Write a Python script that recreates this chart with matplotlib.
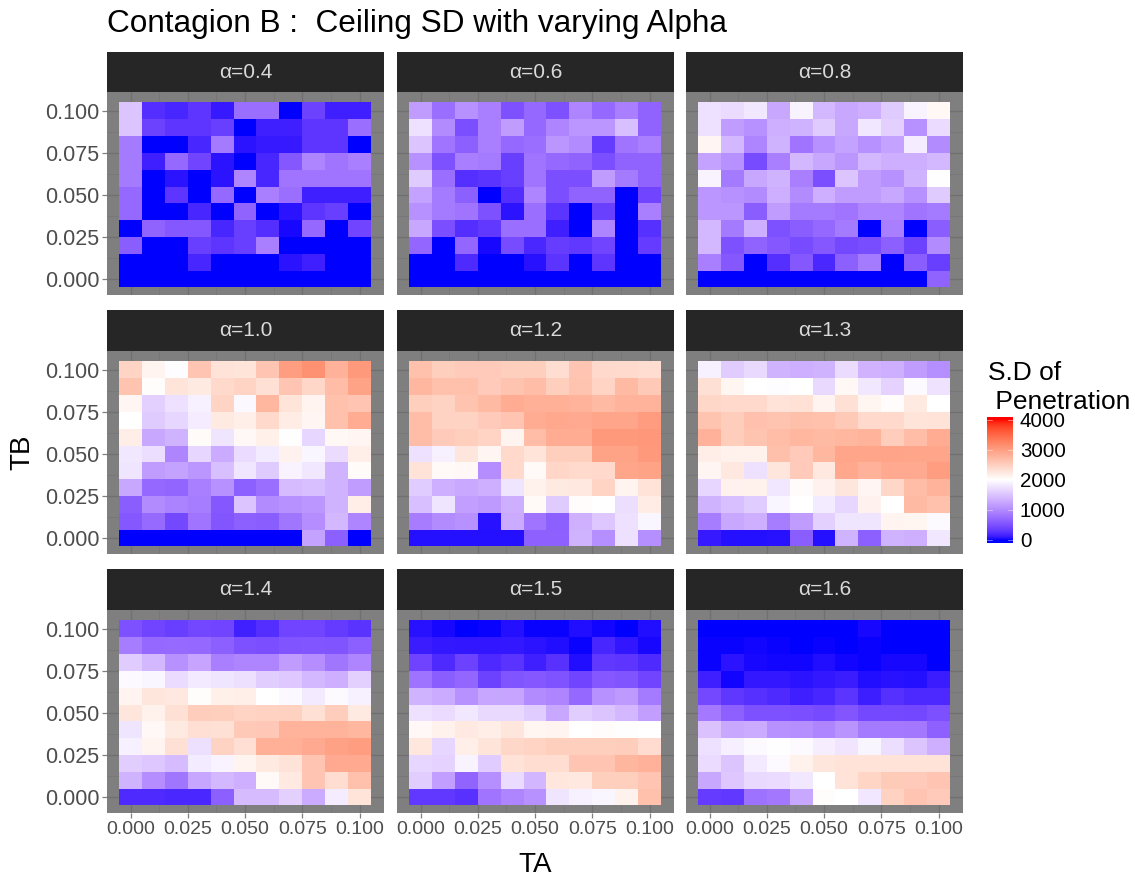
import numpy as np
import matplotlib
matplotlib.use("Agg")
import matplotlib.pyplot as plt
from matplotlib.colors import ListedColormap, Normalize
from matplotlib.patches import Rectangle

plt.rcParams['font.family'] = ['Liberation Sans', 'DejaVu Sans']

TA = [0.00, 0.01, 0.02, 0.03, 0.04, 0.05, 0.06, 0.07, 0.08, 0.09, 0.10]
TB = [0.10, 0.09, 0.08, 0.07, 0.06, 0.05, 0.04, 0.03, 0.02, 0.01, 0.00]
tick_values = [0.000, 0.025, 0.050, 0.075, 0.100]
tick_labels = ['0.000', '0.025', '0.050', '0.075', '0.100']
legend_ticks = [0, 1000, 2000, 3000, 4000]
panel_labels = ['α=0.4', 'α=0.6', 'α=0.8', 'α=1.0', 'α=1.2', 'α=1.3', 'α=1.4', 'α=1.5', 'α=1.6']

sd_04 = [[1500,220,170,280,100,750,750,0,380,130,130],
         [1500,380,280,280,340,0,130,130,280,280,750],
         [850,0,0,170,850,70,100,100,280,280,0],
         [850,130,700,400,70,0,170,550,950,800,900],
         [850,0,70,0,70,950,170,800,800,800,800],
         [700,0,280,0,700,0,900,750,130,130,130],
         [700,0,0,170,0,650,0,70,280,340,0],
         [0,650,550,550,170,340,220,30,700,0,400],
         [600,0,0,340,280,340,900,0,0,0,0],
         [0,0,0,170,0,0,0,70,130,0,0],
         [0,0,0,0,0,0,0,0,0,0,0]]
sd_06 = [[1150,750,1050,900,500,700,500,950,700,900,650],
         [1750,1000,480,900,1150,700,950,1100,1100,1450,650],
         [1500,800,620,900,700,750,1100,1000,320,800,900],
         [1050,500,900,850,350,800,700,650,480,650,650],
         [1550,750,230,270,350,800,480,480,1150,850,650],
         [1200,850,620,0,220,950,480,650,650,0,400],
         [1050,850,800,500,70,750,270,0,360,0,900],
         [1250,480,220,300,750,750,130,0,950,0,240],
         [680,0,680,30,450,180,330,300,400,0,320],
         [0,0,200,0,0,60,270,0,280,0,0],
         [0,0,0,0,0,0,0,0,0,0,0]]
sd_08 = [[1750,1700,1800,1250,1900,1400,1250,1300,1550,1900,2080],
         [1750,1150,1050,1300,1350,1550,1250,1800,1600,1050,1700],
         [2100,1400,950,1350,800,1050,1200,1050,1200,1850,1000],
         [1200,1050,450,900,1400,1250,1100,1400,1300,1300,1400],
         [1900,850,1250,1350,900,480,1500,1150,1050,1350,1990],
         [1100,1050,1000,1300,1000,1300,1150,1150,1250,1050,1550],
         [1100,1100,600,1150,850,850,800,950,950,800,850],
         [1400,850,1300,500,600,700,850,0,900,0,600],
         [1400,500,650,550,450,550,430,460,620,380,1000],
         [900,550,0,230,550,180,620,850,0,600,350],
         [0,0,0,0,0,0,0,0,0,0,650]]
sd_10 = [[2450,2120,1980,2600,2300,2280,2600,3000,3120,2800,3050],
         [2620,2020,2280,2220,2400,2450,2320,2600,2420,2700,2950],
         [2100,1600,1750,1880,2450,1940,2750,2280,2120,2650,2600],
         [2000,1550,1650,1850,2220,2170,2400,2200,2100,2650,2850],
         [2180,1250,1350,2050,1780,2070,2160,2010,1650,2080,2100],
         [1800,1720,950,1650,1280,1700,1830,2130,1920,1700,2170],
         [1780,1150,1200,1100,1450,1790,1550,1900,1800,1350,2050],
         [1250,700,670,900,1050,620,750,1420,1450,1350,1150],
         [600,1000,920,880,560,1500,1000,1050,1100,1350,2180],
         [560,720,430,800,540,620,600,820,1020,1380,950],
         [0,0,0,0,0,0,0,0,1200,620,0]]
sd_12 = [[2650,2500,2550,2550,2500,2500,2350,2600,2400,2380,2350],
         [2750,2650,2650,2550,2620,2680,2500,2620,2450,2720,2560],
         [2500,2460,2620,2720,2850,2820,2820,2780,2720,2780,2780],
         [2700,2460,2460,2550,2600,2850,2900,2880,2920,2920,3020],
         [2680,2550,2500,2450,2120,2680,2860,2850,3040,3050,3060],
         [1750,1880,2260,2100,2400,2280,2500,2500,2950,2950,3040],
         [2300,2060,2070,1020,2400,2060,2430,2380,2400,2920,2950],
         [1570,1300,1260,1300,1780,2140,2220,2240,2450,2120,2300],
         [1450,1780,1170,1130,1300,2060,1550,2030,2000,1720,2200],
         [870,1000,1050,60,1280,800,620,1330,1520,1740,1920],
         [50,50,50,50,50,640,640,1350,1030,1740,1030]]
sd_13 = [[1880,1570,1680,1350,1300,1350,1700,1340,1300,1150,1030],
         [2330,2110,2000,1980,2000,1680,2080,1800,1620,1950,1760],
         [2420,2400,2400,2300,2310,2120,2320,2110,2030,2220,2000],
         [2620,2520,2640,2620,2660,2650,2560,2400,2400,2280,2290],
         [2800,2520,2620,2680,2750,2720,2740,2780,2520,2700,2850],
         [2180,2140,2140,2660,2550,2740,2920,2930,2940,2920,2930],
         [2100,2240,1750,2260,2550,2240,2900,2800,2880,2880,3000],
         [1650,2130,2150,1800,2040,2130,2270,2100,2420,2680,2780],
         [1350,1450,1570,1920,2000,1830,1650,2130,2000,2720,2650],
         [880,1250,1300,880,1150,1600,1780,1780,2120,2110,1960],
         [100,50,50,60,600,50,1350,620,1350,1300,1800]]
sd_14 = [[500,400,350,420,400,140,220,400,400,320,260],
         [880,700,720,700,620,500,480,520,530,520,620],
         [1560,1380,1050,1220,900,950,950,1150,1020,820,950],
         [1960,1920,1700,1820,1780,1730,1580,1530,1400,1300,1600],
         [2120,2260,2240,2020,2160,2170,2000,1940,1820,1950,1880],
         [2270,2140,2320,2520,2500,2450,2470,2480,2330,2520,2220],
         [1780,2070,2220,2340,2320,2560,2580,2780,2780,2780,2740],
         [1880,2120,2330,1730,2460,2340,2820,2820,2880,2960,3000],
         [1580,1520,1430,1830,1900,2120,2220,2300,2600,2880,2880],
         [1350,1020,820,1230,1380,1300,2060,2230,2600,2350,2650],
         [200,200,180,180,620,1420,1420,1600,1280,1850,2280]]
sd_15 = [[60,30,5,15,50,10,10,40,20,5,40],
         [110,90,80,80,90,70,40,10,170,80,30],
         [390,200,380,190,260,130,250,40,300,280,200],
         [790,600,680,370,520,560,510,400,550,520,400],
         [1350,1280,1050,1230,1220,1000,950,700,1050,1130,850],
         [1740,1700,1800,1680,1680,1560,1250,1580,1500,1380,1180],
         [2070,2150,2230,2180,2260,2110,2120,2000,2030,2010,2000],
         [2250,1650,2170,2280,2420,2450,2500,2500,2500,2520,2370],
         [1650,1620,1900,1560,2290,2350,2350,2600,2600,2760,2800],
         [1580,1160,660,1030,1700,1370,2250,2240,2500,2500,2600],
         [300,300,250,800,950,1050,1780,1880,1920,2150,2650]]
sd_16 = [[0,0,0,0,0,0,0,30,0,0,0],
         [15,15,20,15,5,15,5,10,0,5,0],
         [10,70,30,20,20,40,20,10,30,25,0],
         [130,20,90,90,70,90,110,40,60,50,110],
         [430,290,240,200,130,170,270,120,240,190,190],
         [840,630,500,500,480,440,540,430,430,420,490],
         [1480,1250,1280,1050,1030,950,1080,850,840,830,630],
         [1750,1870,1950,1990,1950,1860,1770,1910,1720,1500,1320],
         [1700,1500,1820,1950,2150,2260,2300,2300,2300,2300,2300],
         [1250,1520,1680,1700,1800,2000,2300,2440,2540,2550,2600],
         [320,300,780,830,1250,2020,2000,1800,2470,2600,2550]]
panels = [sd_04, sd_06, sd_08, sd_10, sd_12, sd_13, sd_14, sd_15, sd_16]

W, H = 1135, 877


def lab_to_rgb(L, a, b):
    fy = (L + 16) / 116
    fx = fy + a / 500
    fz = fy - b / 200
    def finv(t):
        return np.where(t > 6 / 29, t ** 3, 3 * (6 / 29) ** 2 * (t - 4 / 29))
    X, Y, Z = 0.95047 * finv(fx), finv(fy), 1.08883 * finv(fz)
    r = 3.2406 * X - 1.5372 * Y - 0.4986 * Z
    g = -0.9689 * X + 1.8758 * Y + 0.0415 * Z
    bb = 0.0557 * X - 0.2040 * Y + 1.0570 * Z
    rgb = np.clip(np.stack([r, g, bb], axis=-1), 0, 1)
    return np.where(rgb <= 0.0031308, 12.92 * rgb, 1.055 * rgb ** (1 / 2.4) - 0.055)


blue_lab = np.array([32.3, 79.2, -107.9])
white_lab = np.array([100.0, 0.0, 0.0])
red_lab = np.array([53.2, 80.1, 67.2])
t = np.linspace(0, 1, 256)[:, None]
low = blue_lab + (white_lab - blue_lab) * t
high = white_lab + (red_lab - white_lab) * t
stops = np.vstack([low, high[1:]])
cmap = ListedColormap(np.clip(lab_to_rgb(stops[:, 0], stops[:, 1], stops[:, 2]), 0, 1))
norm = Normalize(0, 4000, clip=True)

fig = plt.figure(figsize=(W / 100, H / 100), dpi=100, facecolor='white')


def box(x0, y0, x1, y1):
    return [x0 / W, 1 - y1 / H, (x1 - x0) / W, (y1 - y0) / H]


col_x = [(107, 384), (397, 674), (686, 963)]
row_y = [(52, 92, 295), (310, 351, 554), (569, 610, 813)]
xlim = (-0.0103, 0.1107)
ylim = (-0.0095, 0.1112)

for i, (data, label) in enumerate(zip(panels, panel_labels)):
    r, c = i // 3, i % 3
    x0, x1 = col_x[c]
    ys, y0, y1 = row_y[r]
    ax = fig.add_axes(box(x0, y0, x1, y1))
    ax.set_facecolor('#7F7F7F')
    ax.pcolormesh(TA, TB, np.array(data, float), cmap=cmap, norm=norm,
                  shading='nearest', zorder=3, antialiased=False, linewidth=0)
    ax.set_xlim(xlim)
    ax.set_ylim(ylim)
    ax.set_xticks(tick_values)
    ax.set_yticks(tick_values)
    ax.set_xticks(np.array(tick_values[:-1]) + 0.0125, minor=True)
    ax.set_yticks(np.array(tick_values[:-1]) + 0.0125, minor=True)
    ax.grid(True, which='major', color='#707070', linewidth=1.0, zorder=1)
    ax.grid(True, which='minor', color='#767676', linewidth=0.6, zorder=1)
    ax.set_axisbelow(True)
    for s in ax.spines.values():
        s.set_visible(False)
    ax.tick_params(which='minor', length=0)
    ax.tick_params(axis='x', which='major', length=3.5, width=0.9, color='#7F7F7F',
                   labelsize=14, labelcolor='#4D4D4D', pad=2,
                   bottom=(r == 2), labelbottom=(r == 2))
    ax.tick_params(axis='y', which='major', length=3.5, width=0.9, color='#7F7F7F',
                   labelsize=15.5, labelcolor='#4D4D4D', pad=2,
                   left=(c == 0), labelleft=(c == 0))
    if r == 2:
        ax.set_xticklabels(tick_labels)
    if c == 0:
        ax.set_yticklabels(tick_labels)
    fig.add_artist(Rectangle((x0 / W, 1 - y0 / H), (x1 - x0) / W, (y0 - ys) / H,
                             transform=fig.transFigure, facecolor='#262626', edgecolor='none'))
    fig.text((x0 + x1) / 2 / W, 1 - (ys + y0) / 2 / H - 0.0005, label, ha='center', va='center',
             fontsize=15, color='#D9D9D9')

fig.text(107 / W, 1 - 24 / H, 'Contagion B :  Ceiling SD with varying Alpha', ha='left', va='center',
         fontsize=22.7, color='black')
fig.text(535 / W, 1 - 865 / H, 'TA', ha='center', va='center', fontsize=20, color='black')
fig.text(22 / W, 1 - 452 / H, 'TB', ha='center', va='center', rotation=90, fontsize=20, color='black')

# colour legend
cax = fig.add_axes(box(987, 417.5, 1013, 543))
leg_lo, leg_hi = -100, 4080
grad = np.linspace(leg_lo, leg_hi, 300)[:, None]
cax.imshow(grad, origin='lower', aspect='auto', cmap=cmap, norm=norm,
           extent=(0, 1, leg_lo, leg_hi), interpolation='bilinear')
cax.set_xlim(0, 1)
cax.set_ylim(leg_lo, leg_hi)
cax.set_xticks([])
cax.yaxis.tick_right()
cax.set_yticks(legend_ticks)
cax.set_yticklabels([str(v) for v in legend_ticks])
cax.tick_params(axis='y', length=0, labelsize=14.8, labelcolor='black', pad=5)
for s in cax.spines.values():
    s.set_visible(False)
for v in legend_ticks:
    cax.plot([0, 0.2], [v, v], color='white', lw=0.5, alpha=0.6)
    cax.plot([0.8, 1], [v, v], color='white', lw=0.5, alpha=0.6)
fig.text(988 / W, 1 - 373 / H, 'S.D of', ha='left', va='center', fontsize=19, color='black')
fig.text(988 / W, 1 - 402 / H, ' Penetration', ha='left', va='center', fontsize=19, color='black')

fig.savefig('out.png', dpi=100)
